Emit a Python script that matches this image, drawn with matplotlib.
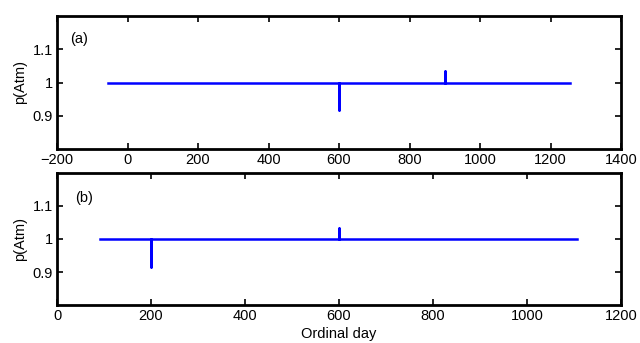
import matplotlib
matplotlib.use("Agg")
import matplotlib.pyplot as plt

# panel (a): flat pressure with a dip at day 600 and a bump at day 900
days_a = [-56, 600, 600, 600, 900, 900, 900, 1255]
p_a = [1.0, 1.0, 0.918, 1.0, 1.0, 1.034, 1.0, 1.0]

# panel (b): dip at day 200, bump at day 600
days_b = [91, 200, 200, 200, 600, 600, 600, 1106]
p_b = [1.0, 1.0, 0.914, 1.0, 1.0, 1.033, 1.0, 1.0]

xticks_a = [-200, 0, 200, 400, 600, 800, 1000, 1200, 1400]
xticks_b = [0, 200, 400, 600, 800, 1000, 1200]
yticks = [0.9, 1.0, 1.1]
ytick_labels = ["0.9", "1", "1.1"]

plt.rcParams["font.family"] = ["Liberation Sans", "DejaVu Sans"]
plt.rcParams["font.size"] = 10.5

fig = plt.figure(figsize=(6.4, 3.43), dpi=100)
W, H = 640, 343
ax_a = fig.add_axes([57 / W, 1 - 149 / H, 564 / W, 133 / H])
ax_b = fig.add_axes([57 / W, 1 - 305 / H, 564 / W, 132 / H])


def style(ax, xticks):
    ax.set_ylim(0.8, 1.2)
    ax.set_yticks(yticks)
    ax.set_yticklabels(ytick_labels)
    ax.set_xlim(xticks[0], xticks[-1])
    ax.set_xticks(xticks)
    ax.set_xticklabels([("\u2212%d" % -t) if t < 0 else str(t) for t in xticks])
    ax.tick_params(direction="in", top=True, right=True, length=4, width=1.2, pad=3)
    for s in ax.spines.values():
        s.set_linewidth(2)
    ax.set_ylabel("p(Atm)", labelpad=4)


ax_a.plot(days_a, p_a, color="#0000ff", lw=1.8)
style(ax_a, xticks_a)
ax_a.text(-162, 1.118, "(a)")

ax_b.plot(days_b, p_b, color="#0000ff", lw=1.8)
style(ax_b, xticks_b)
ax_b.text(38, 1.113, "(b)")
ax_b.set_xlabel("Ordinal day", labelpad=3)

fig.savefig("out.png", dpi=100)
